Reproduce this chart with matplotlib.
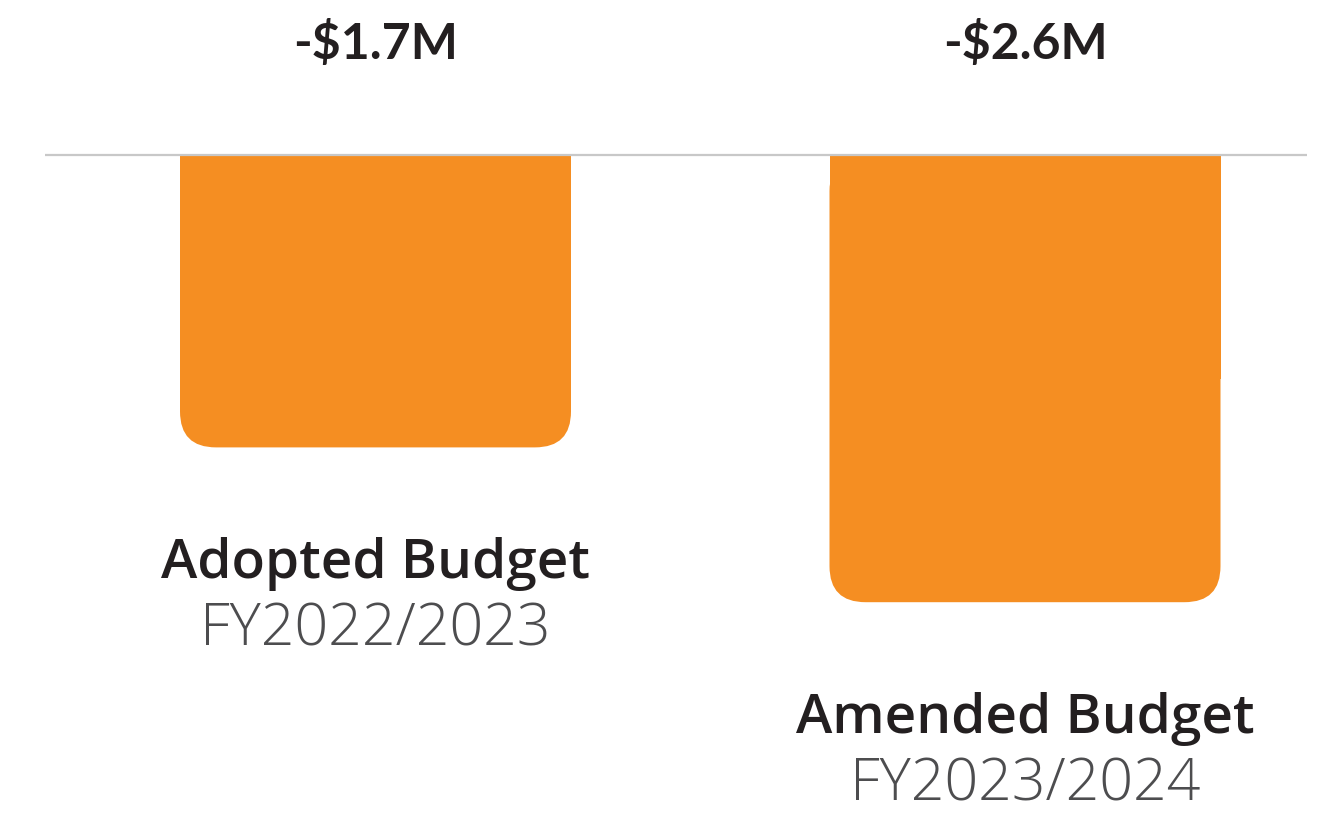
import matplotlib
matplotlib.use("Agg")
import matplotlib.pyplot as plt
from matplotlib.patches import FancyBboxPatch, Rectangle

# ---- data ----
categories = ["Adopted Budget", "Amended Budget"]
fiscal_years = ["FY2022/2023", "FY2023/2024"]
values = [-1.7, -2.6]          # $ millions
value_labels = ["-$1.7M", "-$2.6M"]

# ---- style ----
BAR_COLOR = "#F58E22"
TEXT_DARK = "#231F20"
TEXT_GRAY = "#4D4D4F"
LINE_GRAY = "#C8C8C8"

W, H, DPI = 1327, 818, 100
fig = plt.figure(figsize=(W / DPI, H / DPI), dpi=DPI)
ax = fig.add_axes([0, 0, 1, 1])
ax.set_axis_off()

# scales: px per unit
px_per_x = 649.5
px_per_M = 172.0
x0_px = 375.5          # pixel x of first category
base_px = 155.0        # pixel y of zero line (from top)
ax.set_xlim(-x0_px / px_per_x, (W - x0_px) / px_per_x)
ax.set_ylim(-(H - base_px) / px_per_M, base_px / px_per_M)

bar_w = 391 / px_per_x
r_x = 36 / px_per_x
aspect = px_per_x / px_per_M

for i, v in enumerate(values):
    left = i - bar_w / 2
    # rounded-bottom bar: rounded box + square top part
    rb = FancyBboxPatch((left, v), bar_w, -v,
                        boxstyle=f"round,pad=0,rounding_size={r_x}",
                        mutation_aspect=aspect,
                        facecolor=BAR_COLOR, edgecolor="none", zorder=2)
    ax.add_patch(rb)
    ax.add_patch(Rectangle((left, v / 2), bar_w, -v / 2,
                           facecolor=BAR_COLOR, edgecolor="none", zorder=2))
    # value label at top
    ax.annotate(value_labels[i], xy=(i, 0), xytext=(0, (base_px - 59) * 0.72),
                textcoords="offset points", ha="center", va="baseline",
                fontsize=36, fontweight="bold", family=["Lato", "DejaVu Sans"],
                color=TEXT_DARK)
    # category labels under bar
    ax.annotate(categories[i], xy=(i, v), xytext=(0, -131 * 0.72),
                textcoords="offset points", ha="center", va="baseline",
                fontsize=39.5, fontweight="semibold", family=["Open Sans", "DejaVu Sans"],
                color=TEXT_DARK)
    ax.annotate(fiscal_years[i], xy=(i, v), xytext=(0, -198 * 0.72),
                textcoords="offset points", ha="center", va="baseline",
                fontsize=42.5, fontweight="light", family=["Open Sans", "DejaVu Sans"],
                color=TEXT_GRAY)

# zero line
ax.plot([(45 - x0_px) / px_per_x, (1307 - x0_px) / px_per_x], [0, 0],
        color=LINE_GRAY, lw=1.6, zorder=3, solid_capstyle="butt")

fig.savefig("out.png", dpi=DPI, facecolor="white")
